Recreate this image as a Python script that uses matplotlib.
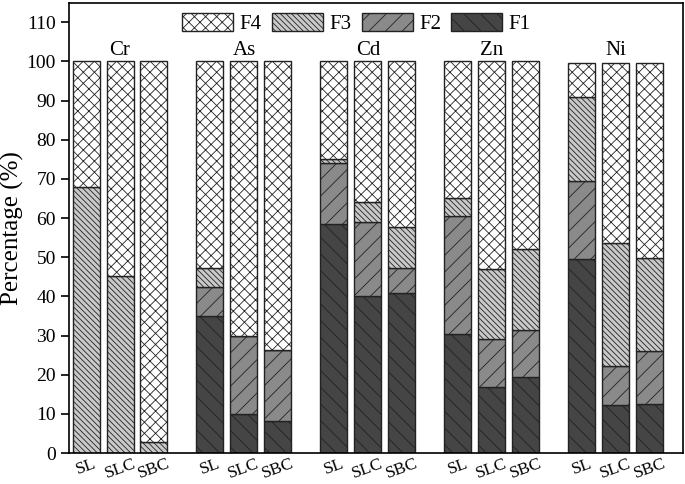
import numpy as np
import matplotlib
matplotlib.use("Agg")
import matplotlib.pyplot as plt

plt.rcParams['font.family'] = ['Liberation Serif', 'DejaVu Serif']
plt.rcParams['hatch.linewidth'] = 0.6

metals = ["Cr", "As", "Cd", "Zn", "Ni"]
samples = ["SL", "SLC", "SBC"]

# cumulative tops of each fraction, per metal x sample
F1 = np.array([[0, 0, 0],
               [34.9, 9.9, 8.3],
               [58.4, 40.1, 40.8],
               [30.4, 16.9, 19.5],
               [49.5, 12.3, 12.5]])
F2_top = np.array([[0, 0, 0],
                   [42.3, 29.8, 26.4],
                   [74.1, 59.1, 47.3],
                   [60.4, 29.0, 31.3],
                   [69.5, 22.1, 26.1]])
F3_top = np.array([[68.0, 45.1, 2.9],
                   [47.3, 29.8, 26.4],
                   [75.1, 64.1, 57.7],
                   [65.0, 47.1, 52.0],
                   [90.8, 53.6, 49.7]])
total = np.array([[100, 100, 100],
                  [100, 100, 100],
                  [100, 100, 100],
                  [100, 100, 100],
                  [99.6, 99.6, 99.6]])

F2 = F2_top - F1
F3 = F3_top - F2_top
F4 = total - F3_top

offsets = np.array([-0.274, 0, 0.274])
width = 0.218

fig = plt.figure(figsize=(6.85, 4.84), dpi=100)
ax = fig.add_axes([69/685, 1-453/484, (683-69)/685, (453-2.7)/484])

styles = {
    "F1": dict(color="#454545", hatch="\\\\"),
    "F2": dict(color="#8a8a8a", hatch="//"),
    "F3": dict(color="#c9c9c9", hatch="\\\\\\\\\\\\"),
    "F4": dict(color="white", hatch="xxx"),
}

xpos = []
handles = {}
for j in range(3):
    x = np.arange(len(metals)) + offsets[j]
    xpos.extend(x)
    bottom = np.zeros(len(metals))
    for name, vals in [("F1", F1[:, j]), ("F2", F2[:, j]), ("F3", F3[:, j]), ("F4", F4[:, j])]:
        b = ax.bar(x, vals, width, bottom=bottom, facecolor=styles[name]["color"],
                   hatch=styles[name]["hatch"], edgecolor="#222222", linewidth=1.0)
        handles[name] = b
        bottom = bottom + vals

order = np.argsort(xpos)
xpos = np.array(xpos)[order]
labels = [samples[j] for j in range(3) for _ in metals]
labels = np.array(labels)[order]
ax.set_xticks(xpos)
ax.set_xticklabels(labels, rotation=20, ha="center", fontsize=12.5)
ax.tick_params(axis="x", length=0, pad=2)

ax.set_xlim(-0.412, 4.544)
ax.set_ylim(0, 115)
ax.set_yticks(np.arange(0, 111, 10))
ax.tick_params(axis="y", direction="out", length=6, width=1.2, labelsize=14)
ax.set_ylabel("Percentage (%)", fontsize=18, labelpad=2)
for s in ax.spines.values():
    s.set_linewidth(1.2)

for i, m in enumerate(metals):
    ax.text(i, 102.8, m, ha="center", va="center", fontsize=15)

ax.legend([handles[k] for k in ["F4", "F3", "F2", "F1"]], ["F4", "F3", "F2", "F1"],
          ncol=4, frameon=False, loc="upper center", bbox_to_anchor=(0.468, 0.978),
          fontsize=15, handlelength=2.45, handleheight=1.0, handletextpad=0.3,
          columnspacing=0.5, borderpad=0, borderaxespad=0)

fig.savefig("out.png", dpi=100)
